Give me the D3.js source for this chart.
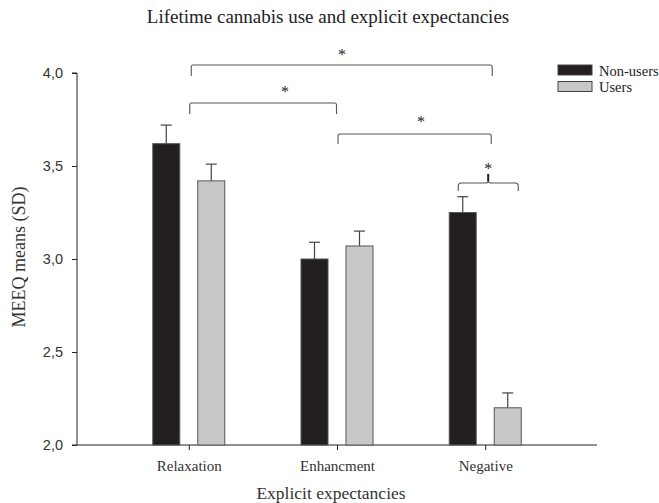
<!DOCTYPE html>
<html>
<head>
<meta charset="utf-8">
<script src="https://cdn.jsdelivr.net/npm/d3@7"></script>
<style>
  html, body { margin: 0; padding: 0; background: #fff; }
  svg { display: block; }
</style>
</head>
<body>
<svg id="chart" width="659" height="503"></svg>
<script>
// Explicit expectancy scores (MEEQ) by lifetime cannabis use
const categories = ["Relaxation", "Enhancment", "Negative"];
const nonUsers = [3.62, 3.00, 3.25];
const nonUsersErr = [0.10, 0.09, 0.085];
const users = [3.42, 3.07, 2.20];
const usersErr = [0.09, 0.08, 0.08];
const seriesNames = ["Non-users", "Users"];
const yTicks = [2.0, 2.5, 3.0, 3.5, 4.0];

const svg = d3.select("#chart");
const serif = "'Liberation Serif', 'Times New Roman', serif";
const sans = "'Liberation Sans', Arial, sans-serif";

const plotLeft = 77, plotRight = 597, plotTop = 73, plotBottom = 445;
const x = d3.scaleLinear().domain([-0.754, 2.754]).range([plotLeft, plotRight]);
const y = d3.scaleLinear().domain([2, 4]).range([plotBottom, plotTop]);

const barW = 27, offset = 22.5;
const colors = ["#231f20", "#c8c8c8"];

// Title
svg.append("text").attr("x", 328).attr("y", 23).attr("text-anchor", "middle")
  .attr("font-family", serif).attr("font-size", 19).attr("fill", "#222")
  .text("Lifetime cannabis use and explicit expectancies");

// Y axis
const yAxis = d3.axisLeft(y).tickValues(yTicks).tickSize(5).tickPadding(9)
  .tickFormat(d => d3.format(".1f")(d).replace(".", ","));
const gy = svg.append("g").attr("transform", `translate(${plotLeft},0)`).call(yAxis);
gy.select(".domain").attr("stroke", "#222").attr("d", `M-5,${plotTop}H0V${plotBottom}H-5`);
gy.selectAll(".tick line").attr("stroke", "#222");
gy.selectAll("text").attr("font-family", sans).attr("font-size", 14.5).attr("fill", "#333");

// X axis
const xAxis = d3.axisBottom(x).tickValues([0, 1, 2]).tickSize(5).tickPadding(10)
  .tickFormat(i => categories[i]);
const gx = svg.append("g").attr("transform", `translate(0,${plotBottom})`).call(xAxis);
gx.select(".domain").attr("stroke", "#222").attr("d", `M${plotLeft},0H${plotRight}`);
gx.selectAll(".tick line").attr("stroke", "#222");
gx.selectAll("text").attr("font-family", serif).attr("font-size", 15).attr("fill", "#333");

// Axis titles
svg.append("text").attr("x", 331).attr("y", 499).attr("text-anchor", "middle")
  .attr("font-family", serif).attr("font-size", 17.5).attr("fill", "#333")
  .text("Explicit expectancies");
svg.append("text").attr("transform", "translate(25,257) rotate(-90)")
  .attr("text-anchor", "middle").attr("font-family", serif).attr("font-size", 18)
  .attr("fill", "#333").text("MEEQ means (SD)");

// Bars and error bars
const series = [
  { vals: nonUsers, errs: nonUsersErr, dx: -offset, fill: colors[0] },
  { vals: users, errs: usersErr, dx: offset, fill: colors[1] }
];
series.forEach(s => {
  const g = svg.append("g");
  s.vals.forEach((v, i) => {
    const cx = x(i) + s.dx;
    g.append("line").attr("x1", cx).attr("x2", cx)
      .attr("y1", y(v)).attr("y2", y(v + s.errs[i]))
      .attr("stroke", "#444").attr("stroke-width", 1.2);
    g.append("line").attr("x1", cx - 5.5).attr("x2", cx + 5.5)
      .attr("y1", y(v + s.errs[i])).attr("y2", y(v + s.errs[i]))
      .attr("stroke", "#444").attr("stroke-width", 1.2);
    g.append("rect").attr("x", cx - barW / 2).attr("y", y(v))
      .attr("width", barW).attr("height", y(2) - y(v))
      .attr("fill", s.fill).attr("stroke", "#555").attr("stroke-width", 1);
  });
});

// Significance brackets
const bracketColor = "#555";
function star(cx, baseline) {
  svg.append("text").attr("x", cx).attr("y", baseline).attr("text-anchor", "middle")
    .attr("font-family", serif).attr("font-size", 16).attr("fill", "#222").text("*");
}
function bracket(x1, x2, yy, leg, starX, starY) {
  svg.append("path")
    .attr("d", `M${x1},${yy + leg}V${yy + 2}Q${x1},${yy} ${x1 + 2},${yy}H${x2 - 2}Q${x2},${yy} ${x2},${yy + 2}V${yy + leg}`)
    .attr("fill", "none").attr("stroke", bracketColor).attr("stroke-width", 1.1);
  star(starX, starY);
}
bracket(x(0) + 2.5, x(2) + 7, 65, 11, 342, 60);
bracket(x(0) + 1, x(1) - 0.5, 103, 11, 285, 97);
bracket(x(1) + 1, x(2) + 6, 134, 10, 421, 127);

// Curly bracket over the Negative pair
(function () {
  const x1 = x(2) - 27, x2 = x(2) + 33, yy = 183, mid = (x1 + x2) / 2;
  svg.append("path")
    .attr("d", `M${x1},${yy + 8}V${yy + 3}Q${x1},${yy} ${x1 + 3},${yy}H${mid - 2}Q${mid},${yy} ${mid},${yy - 3}V${yy - 9}M${mid},${yy - 3}Q${mid},${yy} ${mid + 2},${yy}H${x2 - 3}Q${x2},${yy} ${x2},${yy + 3}V${yy + 8}`)
    .attr("fill", "none").attr("stroke", bracketColor).attr("stroke-width", 1.1);
  svg.append("line").attr("x1", mid).attr("x2", mid).attr("y1", yy - 2).attr("y2", yy - 9)
    .attr("stroke", "#222").attr("stroke-width", 2);
  star(mid, 174);
})();

// Legend
const legend = svg.append("g");
seriesNames.forEach((name, i) => {
  const ly = 65 + i * 16.5;
  legend.append("rect").attr("x", 558).attr("y", ly).attr("width", 34).attr("height", 10)
    .attr("fill", colors[i]).attr("stroke", "#444").attr("stroke-width", 1);
  legend.append("text").attr("x", 599).attr("y", ly + 10.5)
    .attr("font-family", serif).attr("font-size", 14.5).attr("fill", "#222").text(name);
});
</script>
</body>
</html>
